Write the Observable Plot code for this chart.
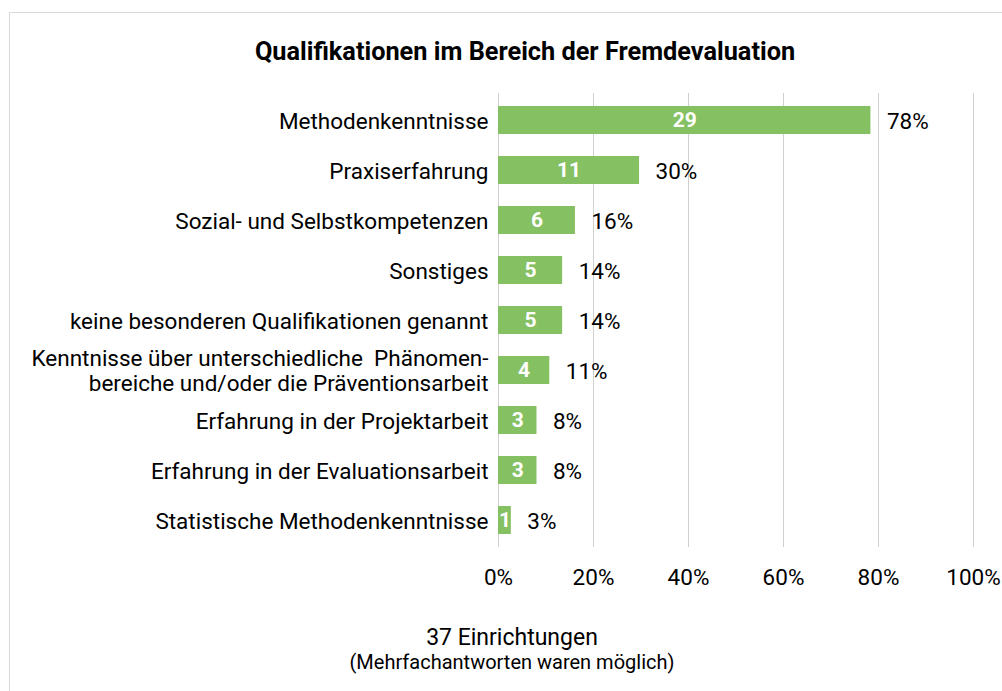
<!DOCTYPE html>
<html>
<head>
<meta charset="utf-8">
<script src="https://cdn.jsdelivr.net/npm/d3@7"></script>
<script src="https://cdn.jsdelivr.net/npm/@observablehq/plot@0.6"></script>
<style>
  html, body { margin: 0; padding: 0; background: #fff; overflow: hidden; width: 1002px; height: 691px; }
  body { position: relative; font-family: Roboto, "Noto Sans", sans-serif; color: #000; }
  #frame { position: absolute; left: 9px; top: 12px; width: 1100px; height: 800px; border: 1px solid #d9d9d9; box-sizing: border-box; }
  #title { position: absolute; left: 0; width: 1050px; top: 37px; text-align: center; font-size: 25.3px; font-weight: bold; line-height: 30px; }
  #chart { position: absolute; left: 0; top: 0; }
  #cap1 { position: absolute; left: 0; width: 1024px; top: 623px; text-align: center; font-size: 23px; line-height: 30px; }
  #cap2 { position: absolute; left: 0; width: 1024px; top: 649px; text-align: center; font-size: 20px; line-height: 26px; }
</style>
</head>
<body>
<div id="frame"></div>
<div id="title">Qualifikationen im Bereich der Fremdevaluation</div>
<div id="chart"></div>
<div id="cap1">37 Einrichtungen</div>
<div id="cap2">(Mehrfachantworten waren möglich)</div>
<script>
const categories = [
  "Methodenkenntnisse",
  "Praxiserfahrung",
  "Sozial- und Selbstkompetenzen",
  "Sonstiges",
  "keine besonderen Qualifikationen genannt",
  "Kenntnisse über unterschiedliche  Phänomen-\nbereiche und/oder die Präventionsarbeit",
  "Erfahrung in der Projektarbeit",
  "Erfahrung in der Evaluationsarbeit",
  "Statistische Methodenkenntnisse"
];
const counts = [29, 11, 6, 5, 5, 4, 3, 3, 1];
const percents = [78.4, 29.7, 16.2, 13.5, 13.5, 10.8, 8.1, 8.1, 2.7];
const percentLabels = ["78%", "30%", "16%", "14%", "14%", "11%", "8%", "8%", "3%"];
const xTicks = [0, 0.2, 0.4, 0.6, 0.8, 1.0];
const xTickLabels = ["0%", "20%", "40%", "60%", "80%", "100%"];

const data = categories.map((c, i) => ({
  cat: c, count: counts[i], share: percents[i] / 100, label: percentLabels[i]
}));

const chart = Plot.plot({
  width: 1002,
  height: 600,
  marginTop: 93,
  marginBottom: 53,
  marginLeft: 498,
  marginRight: 29,
  style: { fontFamily: "Roboto, 'Noto Sans', sans-serif", background: "transparent", color: "#000" },
  x: { domain: [0, 1] },
  y: { domain: categories, paddingInner: 0.4455, paddingOuter: 0.2227 },
  marks: [
    Plot.gridX(xTicks, { stroke: "#d0d0d0", strokeOpacity: 1, strokeWidth: 1 }),
    Plot.barX(data, { x: "share", y: "cat", fill: "#85c063" }),
    Plot.text(data, { x: d => d.share / 2, y: "cat", text: d => String(d.count), fill: "#fff", fontWeight: "bold", fontSize: 21 }),
    Plot.text(data, { x: "share", y: "cat", text: "label", textAnchor: "start", dx: 16, dy: 1, fontSize: 22.5, fill: "#000" }),
    Plot.axisY({ tickSize: 0, tickPadding: 10, fontSize: 22.5, lineHeight: 1.12, label: null, fill: "#000" }),
    Plot.axisX(xTicks, { tickSize: 0, tickPadding: 22, fontSize: 22.5, label: null, fill: "#000",
      tickFormat: (d) => xTickLabels[xTicks.indexOf(d)] })
  ]
});
document.getElementById("chart").appendChild(chart);
</script>
</body>
</html>
